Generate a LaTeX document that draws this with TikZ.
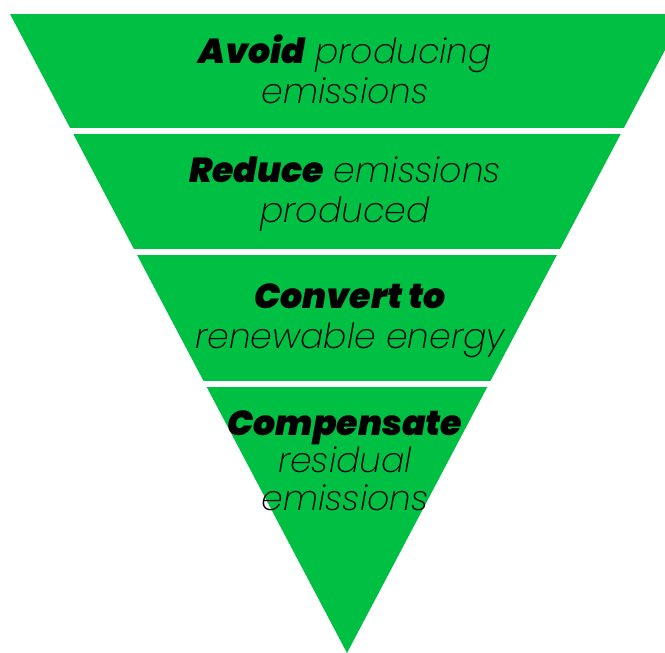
\documentclass[tikz,border=0pt]{standalone}
\usepackage{fontspec}
\setmainfont{Poppins}[ItalicFont={* ExtraLight Italic}, BoldItalicFont={* Black Italic}]
\definecolor{leafgreen}{RGB}{0,192,68}
\tikzset{
  band/.style={fill=leafgreen, draw=none},
  gap/.style={fill=white, draw=none},
  step label/.style={anchor=base, align=center, inner sep=0pt,
    font=\fontsize{26}{30}\selectfont\itshape}
}
\begin{document}
\begin{tikzpicture}[x=0.75pt, y=-0.75pt]

\useasboundingbox (0,0) rectangle (665,653);
\begin{scope}
\clip (0,0) rectangle (665,653);
\fill[band] (10,14) -- (684,14) -- (347,653) -- cycle;
\end{scope}

% white stripes between the levels
\fill[gap] (0,128) rectangle (665,134);
\fill[gap] (0,249) rectangle (665,255);
\fill[gap] (0,381) rectangle (665,387);

% base = baseline of the last line
\node[step label] (avoid) at (345,103) {\textbf{Avoid} producing\\emissions};
\node[step label] (reduce) at (345,222) {\textbf{Reduce} emissions\\produced};
\node[step label] (convert) at (350,348) {\textbf{Convert to}\\renewable energy};
\node[step label, font=\fontsize{26}{28}\selectfont\itshape] (compensate) at (345,510) {\textbf{Compensate}\\residual\\emissions};

\end{tikzpicture}
\end{document}
